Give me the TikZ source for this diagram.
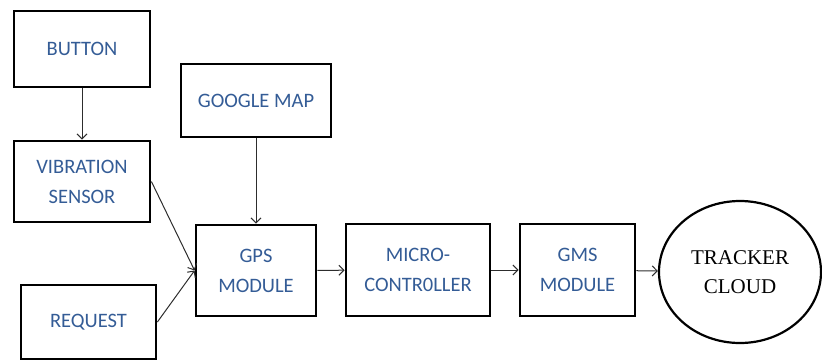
\documentclass[tikz,border=0pt]{standalone}
\usepackage{fontspec}
\setmainfont{Carlito}
\newfontfamily\cloudfont{Liberation Serif}
\usetikzlibrary{arrows.meta,shapes.geometric}
\definecolor{LabelClr}{RGB}{52,92,150}
\definecolor{LinkClr}{RGB}{45,45,45}

\begin{document}
\begin{tikzpicture}[x=1pt,y=-1pt,>={Straight Barb[length=5pt,width=10pt]},
  block/.style={draw,line width=2.8pt,align=center,text=LabelClr,
    font=\fontsize{20.5}{30}\selectfont,inner sep=0pt},
  link/.style={->,line width=1pt,color=LinkClr}]
\useasboundingbox (0,0) rectangle (822,362);

\node[block,minimum width=136pt,minimum height=76pt] (button) at (82,49) {BUTTON};
\node[block,minimum width=136pt,minimum height=81pt] (vib) at (82,181.5) {VIBRATION\\SENSOR};
\node[block,minimum width=135pt,minimum height=74pt] (request) at (88.5,322) {REQUEST};
\node[block,minimum width=150pt,minimum height=73pt] (gmap) at (256,100.5) {GOOGLE MAP};
\node[block,minimum width=120pt,minimum height=91pt] (gps) at (256,270.5) {GPS\\MODULE};
\node[block,minimum width=144pt,minimum height=92pt] (mcu) at (418,270) {MICRO-\\CONTR0LLER};
\node[block,minimum width=115pt,minimum height=92pt] (gms) at (577.5,270) {GMS\\MODULE};
\node[ellipse,draw,line width=2.2pt,minimum width=162pt,minimum height=142pt,
  inner sep=0pt,align=center,font=\cloudfont\fontsize{21}{29}\selectfont] (cloud) at (740,272) {TRACKER\\CLOUD};

% connectors
\draw[link] (button) -- (vib);
\draw[link] (gmap) -- (gps);
\draw[link] (vib.east) -- (gps.west);
\draw[link] (request.east) -- (gps.west);
\draw[link] (gps) -- (mcu);
\draw[link] (mcu) -- (gms);
\draw[link] (gms) -- (cloud);

\end{tikzpicture}
\end{document}
